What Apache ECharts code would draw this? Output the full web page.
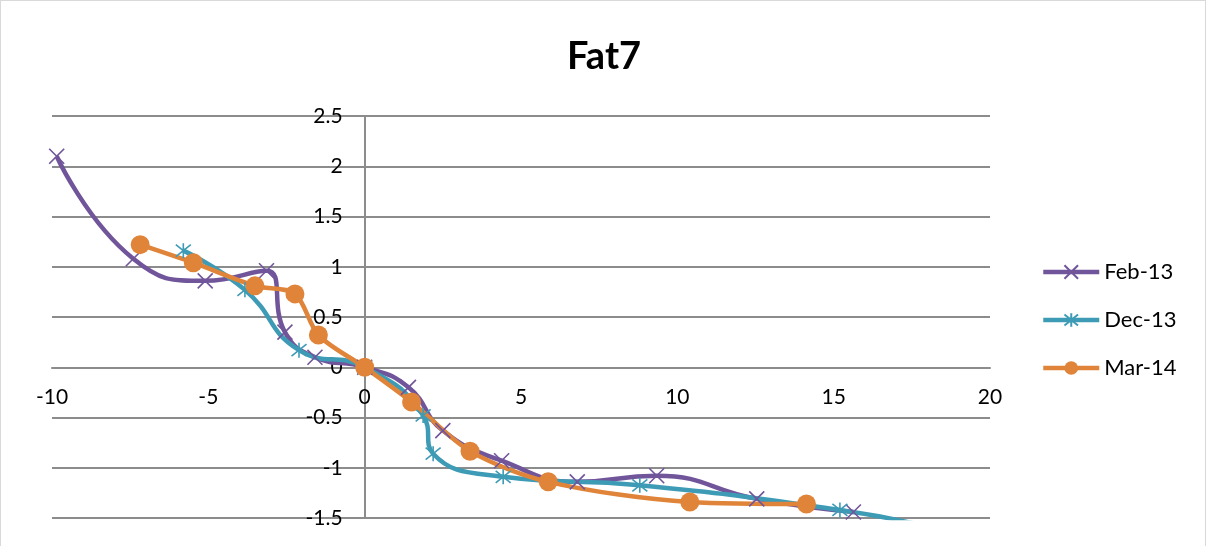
<!DOCTYPE html>
<html>
<head>
<meta charset="utf-8">
<script src="https://cdn.jsdelivr.net/npm/echarts@6/dist/echarts.min.js"></script>
<style>
html,body{margin:0;padding:0;background:#fff;overflow:hidden;width:1208px;height:546px;}
#frame{position:absolute;left:0;top:0;width:1206px;height:560px;border:1px solid #d9d9d9;box-sizing:border-box;}
#chart{position:absolute;left:0;top:0;width:1208px;height:546px;}
</style>
</head>
<body>
<div id="frame"></div>
<div id="chart"></div>
<script>
const title = "Fat7";
const seriesNames = ["Feb-13", "Dec-13", "Mar-14"];
const feb13X = [-9.85, -7.4, -5.1, -3.14, -2.55, -1.59, 0, 1.4, 2.5, 4.38, 6.8, 9.34, 12.54, 15.63];
const feb13Y = [2.1, 1.08, 0.86, 0.96, 0.35, 0.1, 0, -0.2, -0.63, -0.93, -1.14, -1.08, -1.31, -1.44];
const dec13X = [-5.8, -3.83, -2.1, 0, 1.87, 2.19, 4.43, 8.8, 15.2, 17.8];
const dec13Y = [1.16, 0.77, 0.17, 0, -0.48, -0.86, -1.09, -1.175, -1.42, -1.57];
const mar14X = [-7.18, -5.48, -3.51, -2.23, -1.48, 0, 1.5, 3.37, 5.87, 10.4, 14.13];
const mar14Y = [1.22, 1.04, 0.81, 0.73, 0.32, 0, -0.345, -0.835, -1.14, -1.34, -1.36];

const colors = ["#71559B", "#3E9BB5", "#E0843A"];
const zip = (xs, ys) => xs.map((x, i) => [x, ys[i]]);
const crossSym = 'path://M0,0L10,10M10,0L0,10';
const starSym = 'path://M5,0L5,10M1,1L9,9M9,1L1,9';
const font = 'Lato, "Liberation Sans", sans-serif';

const W = 1208, H = 546;
const gridL = 52, gridR = 218, gridT = 116, gridB = 28;
const xMin = -10, xMax = 20, yMin = -1.5, yMax = 2.5;
const plotW = W - gridL - gridR, plotH = H - gridT - gridB;
// offsets so that axes (line + labels) sit at the zero crossing
const yAxisOffset = -plotW * (0 - xMin) / (xMax - xMin);
const xAxisOffset = -plotH * (0 - yMin) / (yMax - yMin);

const chart = echarts.init(document.getElementById('chart'), null, {renderer: 'canvas'});
chart.setOption({
  animation: false,
  title: {
    text: title, left: 'center', top: 33,
    textStyle: {fontFamily: font, fontSize: 38, fontWeight: 'bold', color: '#000'}
  },
  legend: {
    orient: 'vertical', left: 1036, top: 256, itemWidth: 56, itemHeight: 17, itemGap: 26,
    textStyle: {fontFamily: font, fontSize: 22, color: '#000'},
    data: seriesNames.map((n, i) => ({name: n, lineStyle: {width: 4.5, color: colors[i]}}))
  },
  grid: {left: gridL, right: gridR, top: gridT, bottom: gridB, containLabel: false},
  xAxis: {
    type: 'value', min: xMin, max: xMax, interval: 5,
    offset: xAxisOffset,
    axisLine: {onZero: false, lineStyle: {color: '#8c8c8c', width: 2}},
    axisTick: {show: false},
    axisLabel: {fontFamily: font, fontSize: 21, color: '#000', margin: 19},
    splitLine: {show: false}
  },
  yAxis: {
    type: 'value', min: yMin, max: yMax, interval: 0.5,
    offset: yAxisOffset,
    axisLine: {show: true, onZero: false, lineStyle: {color: '#8c8c8c', width: 2}},
    axisTick: {show: false},
    axisLabel: {fontFamily: font, fontSize: 21, color: '#000', margin: 22},
    splitLine: {show: true, lineStyle: {color: '#8c8c8c', width: 2}}
  },
  series: [
    {
      name: seriesNames[0], type: 'line', data: zip(feb13X, feb13Y), smooth: 0.5,
      symbol: crossSym, symbolSize: 15, showAllSymbol: true, clip: true,
      lineStyle: {color: colors[0], width: 4.5},
      itemStyle: {color: 'rgba(0,0,0,0)', borderColor: colors[0], borderWidth: 1.6}
    },
    {
      name: seriesNames[1], type: 'line', data: zip(dec13X, dec13Y), smooth: 0.5,
      symbol: starSym, symbolSize: 15, showAllSymbol: true, clip: true,
      lineStyle: {color: colors[1], width: 4.5},
      itemStyle: {color: 'rgba(0,0,0,0)', borderColor: colors[1], borderWidth: 1.6}
    },
    {
      name: seriesNames[2], type: 'line', data: zip(mar14X, mar14Y), smooth: 0.3,
      symbol: 'circle', symbolSize: 19, showAllSymbol: true, clip: true,
      lineStyle: {color: colors[2], width: 4.5},
      itemStyle: {color: colors[2], borderColor: colors[2], borderWidth: 0}
    }
  ]
});
</script>
</body>
</html>
